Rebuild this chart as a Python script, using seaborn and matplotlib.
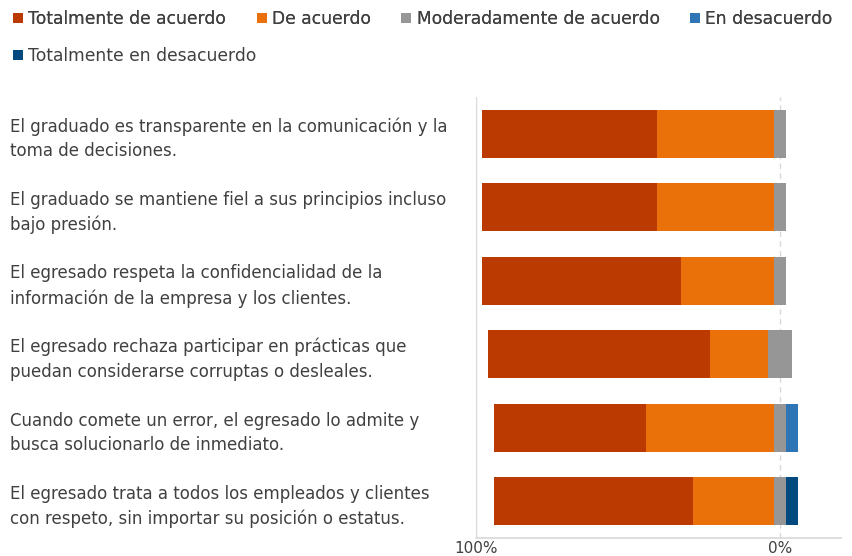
import matplotlib
matplotlib.use("Agg")
import matplotlib.pyplot as plt
import seaborn as sns
import pandas as pd
import numpy as np
from matplotlib.ticker import FuncFormatter
from matplotlib.patches import Patch

categories = [
    "El graduado es transparente en la comunicación y la\ntoma de decisiones.",
    "El graduado se mantiene fiel a sus principios incluso\nbajo presión.",
    "El egresado respeta la confidencialidad de la\ninformación de la empresa y los clientes.",
    "El egresado rechaza participar en prácticas que\npuedan considerarse corruptas o desleales.",
    "Cuando comete un error, el egresado lo admite y\nbusca solucionarlo de inmediato.",
    "El egresado trata a todos los empleados y clientes\ncon respeto, sin importar su posición o estatus.",
]
series_names = ["Totalmente de acuerdo", "De acuerdo", "Moderadamente de acuerdo",
                "En desacuerdo", "Totalmente en desacuerdo"]
totalmente_de_acuerdo = [57.7, 57.7, 65.4, 73.1, 50.0, 65.4]
de_acuerdo = [38.5, 38.5, 30.8, 19.2, 42.3, 26.9]
moderadamente = [3.8, 3.8, 3.8, 7.7, 3.8, 3.8]
en_desacuerdo = [0.0, 0.0, 0.0, 0.0, 3.8, 0.0]
totalmente_en_desacuerdo = [0.0, 0.0, 0.0, 0.0, 0.0, 3.8]
x_ticks = [-100, 0]

colors = ["#BA3A02", "#EA700A", "#969696", "#2E75B6", "#004A80"]
text_color = "#404040"

ta = np.array(totalmente_de_acuerdo)
a = np.array(de_acuerdo)
m = np.array(moderadamente)
d = np.array(en_desacuerdo)
td = np.array(totalmente_en_desacuerdo)

# cumulative layers (drawn largest first so smaller overlap)
layers = [
    (-(ta + a + m / 2), colors[0]),
    (-(a + m / 2), colors[1]),
    (-(m / 2), colors[2]),
    (m / 2 + d + td, colors[4]),
    (m / 2 + d, colors[3]),
    (m / 2, colors[2]),
]

sns.set_theme(style="white")
plt.rcParams['font.family'] = ['DejaVu Sans']

fig = plt.figure(figsize=(8.53, 5.56), dpi=100)
ax = fig.add_axes([476 / 853, 1 - 538 / 556, (841 - 476) / 853, (538 - 97) / 556])

for vals, col in layers:
    df = pd.DataFrame({"cat": categories, "val": vals})
    sns.barplot(data=df, x="val", y="cat", orient="h", color=col, width=0.65,
                saturation=1, ax=ax, linewidth=0, zorder=3)

ax.set_xlim(-100, 20)
ax.set_xticks(x_ticks)
ax.xaxis.set_major_formatter(FuncFormatter(lambda v, p: f"{abs(v):.0f}%"))
ax.set_xlabel("")
ax.set_ylabel("")
ax.axvline(-100, color="#D9D9D9", lw=1, zorder=1)
ax.axvline(0, color="#D9D9D9", lw=1, ls=(0, (4, 3)), zorder=1)
for s in ["top", "right", "left"]:
    ax.spines[s].set_visible(False)
ax.spines["bottom"].set_color("#D9D9D9")
ax.tick_params(axis="x", length=0, pad=2, labelsize=11, labelcolor=text_color)
ax.tick_params(axis="y", length=0, pad=466 * 72 / 100, labelsize=12, labelcolor=text_color)
for lbl in ax.get_yticklabels():
    lbl.set_ha("left")
    lbl.set_linespacing(1.45)

handles = [Patch(facecolor=c, edgecolor="none") for c in colors]
common = dict(loc="upper left", frameon=False, fontsize=12.3, handlelength=0.6, handleheight=0.6,
              handletextpad=0.3, borderpad=0, borderaxespad=0, labelcolor=text_color)
leg1 = fig.legend(handles[:4], series_names[:4], bbox_to_anchor=(13 / 853, 1 - 10 / 556),
                  ncol=4, columnspacing=1.78, **common)
leg2 = fig.legend(handles[4:], series_names[4:], bbox_to_anchor=(13 / 853, 1 - 47 / 556),
                  ncol=1, **common)
fig.add_artist(leg1)

fig.savefig("out.png", dpi=100, facecolor="white")
